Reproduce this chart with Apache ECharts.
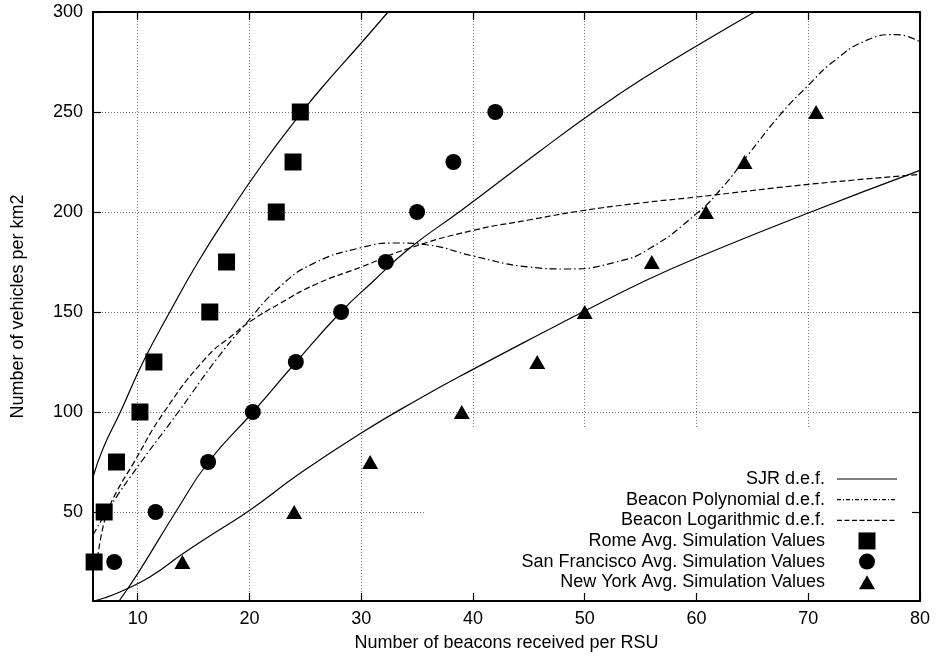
<!DOCTYPE html>
<html><head><meta charset="utf-8">
<script src="https://cdn.jsdelivr.net/npm/echarts@6/dist/echarts.min.js"></script>
<style>html,body{margin:0;padding:0;background:#fff}#c{width:936px;height:661px}</style>
</head><body><div id="c"></div>
<script>
// ---- tick labels ----
const xTicks = [10, 20, 30, 40, 50, 60, 70, 80];
const yTicks = [50, 100, 150, 200, 250, 300];

// ---- simulation values ----
const romeX = [6.1, 7.0, 8.1, 10.2, 11.45, 16.45, 17.95, 22.4, 23.9, 24.55];
const romeY = [25, 50, 75, 100, 125, 150, 175, 200, 225, 250];
const sfX = [7.9, 11.6, 16.3, 20.3, 24.15, 28.2, 32.2, 35.0, 38.25, 42.0];
const sfY = [25, 50, 75, 100, 125, 150, 175, 200, 225, 250];
const nyX = [14.0, 24.0, 30.8, 39.0, 45.75, 50.0, 56.0, 60.85, 64.3, 70.7];
const nyY = [25, 50, 75, 100, 125, 150, 175, 200, 225, 250];

// ---- SJR d.e.f. curves ----
const sjrRomeX = [6, 6.9, 8.45, 10.48, 12.87, 15.4, 18.24, 21.3, 24.7, 26.3, 30, 32.4];
const sjrRomeY = [67.5, 81.8, 100, 125, 150, 175, 200, 225, 250, 261, 284.5, 300];
const sjrSfX = [8.33, 10, 13.4, 16.33, 20.32, 24.17, 28.18, 31, 34.35, 39, 46, 50.77, 55, 60, 65.2];
const sjrSfY = [5.5, 19.2, 50, 75, 100, 125, 150, 165, 182, 201, 230.5, 250, 266, 283, 300];
const sjrNyX = [6, 7, 8.4, 11.08, 14, 17, 20, 24.5, 30, 35, 40, 46.7, 50, 55, 60, 70, 80];
const sjrNyY = [5.5, 7, 10, 17.5, 29, 40, 50.8, 69.2, 89.5, 106, 121.3, 141, 150.5, 164.5, 177, 199.5, 220.8];

// ---- Beacon polynomial d.e.f. ----
const polyX = [6, 7.5, 10.2, 13.7, 17, 19.5, 22.7, 25.7, 30, 33.2, 36, 40, 45, 48.5, 52.8, 55.8, 60, 62.35, 64.7, 67.7, 70, 72.2, 75.2, 77.9, 80];
const polyY = [38.5, 52.5, 74.2, 100.5, 126, 143, 162.5, 174.2, 182.2, 184.5, 183.5, 178, 172.5, 171.5, 175, 181.7, 199.2, 212.5, 229.2, 250, 263.3, 275, 285.8, 288.7, 285];

// ---- Beacon logarithmic d.e.f. ----
const logX = [6.4, 6.8, 7.3, 8.1, 9.6, 12.3, 16.1, 18.5, 20, 22.7, 26, 30, 34.35, 40, 45, 49.6, 55, 60, 70, 80];
const logY = [27, 40, 50, 60, 74.2, 99.5, 127, 138.5, 145, 154.2, 164, 172.5, 182, 190.8, 196, 200.5, 204.5, 207.5, 213.8, 218.8];

const legendNames = ['SJR d.e.f.', 'Beacon Polynomial d.e.f.', 'Beacon Logarithmic d.e.f.',
  'Rome Avg. Simulation Values', 'San Francisco Avg. Simulation Values', 'New York Avg. Simulation Values'];

const FONT = 'Liberation Sans, Arial, Helvetica, sans-serif';
const pairs = (xs, ys) => xs.map((x, i) => [x, ys[i]]);
const DASHDOT = [7, 3, 1.5, 3];
const DASH = [6, 3];

function lineSeries(name, xs, ys, type) {
  return {
    name, type: 'line', data: pairs(xs, ys), symbol: 'none', showSymbol: false,
    smooth: 0.5, clip: true, silent: true, z: 2,
    lineStyle: { color: '#000', width: 1.2, type: type }
  };
}
function scatterSeries(name, xs, ys, symbol, size) {
  return {
    name, type: 'scatter', data: pairs(xs, ys), symbol, symbolSize: size, silent: true, z: 4,
    itemStyle: { color: '#000', opacity: 1 }
  };
}

const baseX = { type: 'value', min: 6, max: 80 };
const baseY = { type: 'value', min: 5.5, max: 300 };
const tickStyle = { color: '#000', width: 1.2 };
const axisLineStyle = { color: '#000', width: 2 };

const chart = echarts.init(document.getElementById('c'), null, { renderer: 'canvas' });

// legend graphics
const legendGraphics = [];
const rowY0 = 479, rowStep = 20.65, textRight = 825, sampleL = 837, sampleR = 897, markX = 867;
legendNames.forEach((n, i) => {
  const y = rowY0 + i * rowStep;
  legendGraphics.push({
    type: 'text', z: 20, style: { text: n, x: textRight, y: y, textAlign: 'right', textVerticalAlign: 'middle',
      font: '18px ' + FONT, fill: '#000' }
  });
});
legendGraphics.push({ type: 'line', z: 20, shape: { x1: sampleL, y1: rowY0, x2: sampleR, y2: rowY0 }, style: { stroke: '#000', lineWidth: 1.2 } });
legendGraphics.push({ type: 'line', z: 20, shape: { x1: sampleL, y1: rowY0 + rowStep, x2: sampleR, y2: rowY0 + rowStep }, style: { stroke: '#000', lineWidth: 1.2, lineDash: [4, 2, 1, 2] } });
legendGraphics.push({ type: 'line', z: 20, shape: { x1: sampleL, y1: rowY0 + 2 * rowStep, x2: sampleR, y2: rowY0 + 2 * rowStep }, style: { stroke: '#000', lineWidth: 1.2, lineDash: [5, 2.5] } });
legendGraphics.push({ type: 'rect', z: 20, shape: { x: markX - 8.5, y: rowY0 + 3 * rowStep - 8.5, width: 17, height: 17 }, style: { fill: '#000' } });
legendGraphics.push({ type: 'circle', z: 20, shape: { cx: markX, cy: rowY0 + 4 * rowStep, r: 8 }, style: { fill: '#000' } });
legendGraphics.push({ type: 'polygon', z: 20, shape: { points: [[markX - 8, rowY0 + 5 * rowStep + 7], [markX + 8, rowY0 + 5 * rowStep + 7], [markX, rowY0 + 5 * rowStep - 7]] }, style: { fill: '#000' } });
// white key box hiding grid lines behind the key
legendGraphics.push({ type: 'rect', z: 1, shape: { x: 424, y: 427, width: 494, height: 172 }, style: { fill: '#fff' } });

chart.setOption({
  animation: false,
  backgroundColor: '#fff',
  textStyle: { fontFamily: FONT },
  grid: { left: 93, right: 16, top: 12, bottom: 60, containLabel: false, outerBoundsMode: 'none' },
  xAxis: [
    Object.assign({}, baseX, { position: 'bottom', z: 0,
      axisLine: { show: false }, axisTick: { show: false, customValues: xTicks }, axisLabel: { show: false, customValues: xTicks },
      splitLine: { show: true, lineStyle: { color: '#777', width: 1, type: [1, 2] } } }),
    Object.assign({}, baseX, { position: 'bottom', z: 5,
      axisLine: { show: true, onZero: false, lineStyle: axisLineStyle },
      axisTick: { show: true, inside: true, length: 8, customValues: xTicks, lineStyle: tickStyle },
      axisLabel: { show: true, customValues: xTicks, fontSize: 18, color: '#000', margin: 9, fontFamily: FONT },
      splitLine: { show: false },
      name: 'Number of beacons received per RSU', nameLocation: 'middle', nameGap: 33,
      nameTextStyle: { fontSize: 18, color: '#000', fontFamily: FONT } }),
    Object.assign({}, baseX, { position: 'top', z: 5,
      axisLine: { show: true, onZero: false, lineStyle: axisLineStyle },
      axisTick: { show: true, inside: true, length: 8, customValues: xTicks, lineStyle: tickStyle },
      axisLabel: { show: false, customValues: xTicks }, splitLine: { show: false } })
  ],
  yAxis: [
    Object.assign({}, baseY, { position: 'left', z: 0,
      axisLine: { show: false }, axisTick: { show: false, customValues: yTicks }, axisLabel: { show: false, customValues: yTicks },
      splitLine: { show: true, lineStyle: { color: '#777', width: 1, type: [1, 2] } } }),
    Object.assign({}, baseY, { position: 'left', z: 5,
      axisLine: { show: true, onZero: false, lineStyle: axisLineStyle },
      axisTick: { show: true, inside: true, length: 8, customValues: yTicks, lineStyle: tickStyle },
      axisLabel: { show: true, customValues: yTicks, fontSize: 18, color: '#000', margin: 10, fontFamily: FONT },
      splitLine: { show: false },
      name: 'Number of vehicles per km2', nameLocation: 'middle', nameGap: 66, nameRotate: 90,
      nameTextStyle: { fontSize: 18, color: '#000', fontFamily: FONT } }),
    Object.assign({}, baseY, { position: 'right', z: 5,
      axisLine: { show: true, onZero: false, lineStyle: axisLineStyle },
      axisTick: { show: true, inside: true, length: 8, customValues: yTicks, lineStyle: tickStyle },
      axisLabel: { show: false, customValues: yTicks }, splitLine: { show: false } })
  ],
  graphic: legendGraphics,
  series: [
    lineSeries('SJR d.e.f.', sjrRomeX, sjrRomeY, 'solid'),
    lineSeries('SJR d.e.f.', sjrSfX, sjrSfY, 'solid'),
    lineSeries('SJR d.e.f.', sjrNyX, sjrNyY, 'solid'),
    lineSeries('Beacon Polynomial d.e.f.', polyX, polyY, DASHDOT),
    lineSeries('Beacon Logarithmic d.e.f.', logX, logY, DASH),
    scatterSeries('Rome Avg. Simulation Values', romeX, romeY, 'rect', 17),
    scatterSeries('San Francisco Avg. Simulation Values', sfX, sfY, 'circle', 16),
    scatterSeries('New York Avg. Simulation Values', nyX, nyY, 'triangle', [16, 14])
  ]
});
</script>
</body></html>
